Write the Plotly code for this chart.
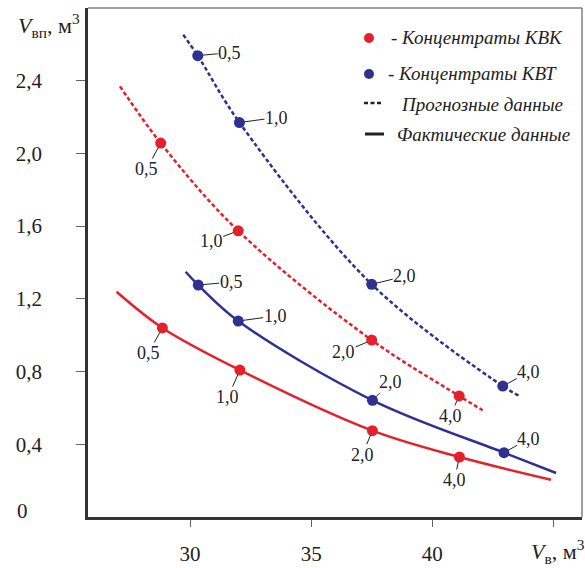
import plotly.graph_objects as go

# ---------------- data ----------------
point_labels = ["0,5", "1,0", "2,0", "4,0"]

# Concentrates KVK (red) - actual data
kvk_fact_x = [28.86, 32.06, 37.53, 41.12]
kvk_fact_y = [1.040, 0.808, 0.475, 0.330]
kvk_fact_curve_x = [26.97, 28.86, 32.06, 37.53, 41.12, 44.90]
kvk_fact_curve_y = [1.239, 1.040, 0.808, 0.475, 0.330, 0.205]

# Concentrates KVT (blue) - actual data
kvt_fact_x = [30.34, 31.99, 37.53, 42.96]
kvt_fact_y = [1.276, 1.078, 0.642, 0.354]
kvt_fact_curve_x = [29.82, 30.34, 31.99, 37.53, 42.96, 45.11]
kvt_fact_curve_y = [1.349, 1.276, 1.078, 0.642, 0.354, 0.242]

# Concentrates KVK (red) - forecast
kvk_prog_x = [28.79, 31.99, 37.50, 41.11]
kvk_prog_y = [2.057, 1.574, 0.973, 0.666]
kvk_prog_curve_x = [27.11, 28.79, 31.99, 37.50, 41.11, 42.08]
kvk_prog_curve_y = [2.369, 2.057, 1.574, 0.973, 0.666, 0.587]

# Concentrates KVT (blue) - forecast
kvt_prog_x = [30.32, 32.04, 37.50, 42.91]
kvt_prog_y = [2.538, 2.170, 1.280, 0.720]
kvt_prog_curve_x = [29.72, 30.32, 32.04, 37.50, 42.91, 43.60]
kvt_prog_curve_y = [2.653, 2.538, 2.170, 1.280, 0.720, 0.666]

x_tick_vals = [30, 35, 40]
x_tick_text = ["30", "35", "40"]
x_minor_tick_vals = [45]
y_tick_vals = [0.4, 0.8, 1.2, 1.6, 2.0, 2.4]
y_tick_text = ["0,4", "0,8", "1,2", "1,6", "2,0", "2,4"]

legend_texts = ["- Концентраты КВК", "- Концентраты КВТ", "Прогнозные данные", "Фактические данные"]

# ---------------- style ----------------
RED = "#e5202a"
BLUE = "#2e3192"
TXT = "#222222"
SERIF = "Liberation Serif, Times New Roman, serif"

W, H = 585, 568
L, R, T, B = 88, 3, 8, 51
PW, PH = W - L - R, H - T - B


def xp(px):
    return (px - L) / PW


def yp(py):
    return (H - B - py) / PH


fig = go.Figure()

# curves
for cx, cy, col, dash in [
    (kvk_fact_curve_x, kvk_fact_curve_y, RED, "solid"),
    (kvt_fact_curve_x, kvt_fact_curve_y, BLUE, "solid"),
    (kvk_prog_curve_x, kvk_prog_curve_y, RED, "4px,2.5px"),
    (kvt_prog_curve_x, kvt_prog_curve_y, BLUE, "4px,2.5px"),
]:
    fig.add_trace(go.Scatter(x=cx, y=cy, mode="lines",
                             line=dict(color=col, width=2.5, dash=dash, shape="spline", smoothing=1.0),
                             hoverinfo="skip"))

# points
for px_, py_, col in [
    (kvk_fact_x, kvk_fact_y, RED),
    (kvt_fact_x, kvt_fact_y, BLUE),
    (kvk_prog_x, kvk_prog_y, RED),
    (kvt_prog_x, kvt_prog_y, BLUE),
]:
    fig.add_trace(go.Scatter(x=px_, y=py_, mode="markers",
                             marker=dict(color=col, size=11, line=dict(width=0)),
                             text=point_labels, hoverinfo="text"))

# point labels with leader lines (pixel offsets of label from point)
offsets = {
    "kvk_fact": [(-14, 25), (-12, 27), (-10, 24), (-5, 23)],
    "kvt_fact": [(33, -3), (37, -5), (18, -18), (25, -14)],
    "kvk_prog": [(-14, 26), (-27, 10), (-28, 12), (-9, 20)],
    "kvt_prog": [(32, -3), (37, -5), (33, -8), (26, -14)],
}
series = {
    "kvk_fact": (kvk_fact_x, kvk_fact_y),
    "kvt_fact": (kvt_fact_x, kvt_fact_y),
    "kvk_prog": (kvk_prog_x, kvk_prog_y),
    "kvt_prog": (kvt_prog_x, kvt_prog_y),
}
annotations = []
for key, (sx, sy) in series.items():
    for i, lab in enumerate(point_labels):
        ax, ay = offsets[key][i]
        annotations.append(dict(
            x=sx[i], y=sy[i], xref="x", yref="y", text=lab,
            showarrow=True, arrowhead=0, arrowwidth=1, arrowcolor=TXT,
            ax=ax, ay=ay, standoff=5, borderpad=0,
            font=dict(family=SERIF, size=18, color=TXT)))

# axis titles
annotations.append(dict(x=xp(16), y=yp(8), xref="paper", yref="paper", xanchor="left", yanchor="top",
                        text="<i>V</i><sub>вп</sub>, м<sup>3</sup>", showarrow=False,
                        font=dict(family=SERIF, size=22, color=TXT)))
annotations.append(dict(x=xp(587), y=yp(569), xref="paper", yref="paper", xanchor="right", yanchor="bottom",
                        text="<i>V</i><sub>в</sub>, м<sup>3</sup>", showarrow=False,
                        font=dict(family=SERIF, size=22, color=TXT)))
# "0" label
annotations.append(dict(x=xp(22), y=yp(511), xref="paper", yref="paper", xanchor="center", yanchor="middle",
                        text="0", showarrow=False, font=dict(family=SERIF, size=21, color=TXT)))

# legend texts
leg_pos = [(389, 38), (386, 73), (399, 104), (395, 135)]
for (lx, ly), txt in zip(leg_pos, legend_texts):
    annotations.append(dict(x=xp(lx), y=yp(ly), xref="paper", yref="paper", xanchor="left", yanchor="middle",
                            text="<i>" + txt + "</i>", showarrow=False,
                            font=dict(family=SERIF, size=19, color=TXT)))

shapes = []
# legend markers
r = 5
for (cx, cy, col) in [(369, 38, RED), (369, 74, BLUE)]:
    shapes.append(dict(type="circle", xref="paper", yref="paper",
                       x0=xp(cx - r), x1=xp(cx + r), y0=yp(cy + r), y1=yp(cy - r),
                       fillcolor=col, line=dict(width=0)))
shapes.append(dict(type="line", xref="paper", yref="paper", x0=xp(364), x1=xp(382), y0=yp(103), y1=yp(103),
                   line=dict(color=TXT, width=2.5, dash="4px,2.5px")))
shapes.append(dict(type="line", xref="paper", yref="paper", x0=xp(365), x1=xp(384), y0=yp(134), y1=yp(134),
                   line=dict(color=TXT, width=3)))
# top and right frame
shapes.append(dict(type="line", xref="paper", yref="paper", x0=0, x1=1, y0=1, y1=1,
                   line=dict(color="#808080", width=1.5)))
shapes.append(dict(type="line", xref="paper", yref="paper", x0=1, x1=1, y0=0, y1=1,
                   line=dict(color="#808080", width=1.5)))

fig.update_layout(
    width=W, height=H,
    margin=dict(l=L, r=R, t=T, b=B, autoexpand=False),
    paper_bgcolor="white", plot_bgcolor="white",
    showlegend=False,
    annotations=annotations,
    shapes=shapes,
    xaxis=dict(range=[25.79, 46.18], showgrid=False, zeroline=False, automargin=False,
               showline=True, linecolor="#333333", linewidth=2.5,
               ticks="outside", ticklen=7, tickwidth=1, tickcolor="#666666",
               tickvals=x_tick_vals, ticktext=x_tick_text, ticklabelstandoff=9,
               minor=dict(tickvals=x_minor_tick_vals, ticks="outside", ticklen=7,
                          tickwidth=1, tickcolor="#666666", showgrid=False),
               tickfont=dict(family=SERIF, size=21, color=TXT)),
    yaxis=dict(range=[0, 2.80], showgrid=False, zeroline=False, automargin=False,
               showline=True, linecolor="#333333", linewidth=2.5,
               ticks="outside", ticklen=9, tickwidth=1, tickcolor="#666666",
               tickvals=y_tick_vals, ticktext=y_tick_text, ticklabelstandoff=30,
               tickfont=dict(family=SERIF, size=21, color=TXT)),
)

fig.write_html("out.html", config={"displayModeBar": False},
               post_script="document.body.style.margin='0';document.body.style.overflow='hidden';")
